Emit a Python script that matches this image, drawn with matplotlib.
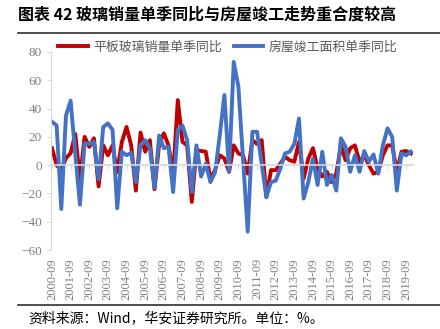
import matplotlib
matplotlib.use('Agg')
import matplotlib.pyplot as plt

# quarterly data, 2000-09 .. 2019-12
glass_yoy = [12, 0, -3.5, 5, 8.5, 22, -10, 20, 13, 19, -15, 14, 7, 14, -5, 16.5,
             27, 14, -18, 23, 9.5, 17.7, -17, 15, 22.5, 14, -7, 46, 16.5, 14, -26, 10.6,
             10, 9.5, -10, -3.5, 7, 4.7, -4.7, 14, 8.3, 7, -6, 17.7, 15, 17.7, -22.5, -3.5,
             -3.5, 1, 6, 3.5, 2.4, 16.5, -9.5, 4.7, 12, -2.4, -8, -4.7, -12, -6, 14, 3.5,
             12, 14, 2.4, 7, 0, -6, -4.7, 7, 14, 14, -4.7, 9.5, 10, 8.3]
completion_yoy = [30.7, 28, -31, 35, 45.6, 8, -28, 15.4, 15, 16.5, -10, 27, 29.5, 25, -30.5, 9.5,
                  7, 8.7, -12, 14, 17.7, 12, -16, 21, 12, 13, -19, 25, 28, 17.7, -19, 14,
                  -8, 1, -12, -5, 21, 49.6, -4.7, 73, 55.5, 4, -47, 23.6, 23.6, 1, -22.5, -12,
                  -11, -2.4, 8.3, 9.5, 15, 33, -23.6, -12, 4.7, -14, 9.5, -14, -7, -18, 19, 13,
                  -4.7, 7, -4.7, 10, 2.4, 7.6, -6, 14, 26, 20, -18, 8.3, 7, 9.5]
year_labels = [f'{y}-09' for y in range(2000, 2020)]

cjk = ['Noto Sans CJK SC', 'DejaVu Sans']
plt.rcParams['font.family'] = ['Liberation Serif', 'DejaVu Serif']

fig = plt.figure(figsize=(4.4, 3.29), dpi=100)
ax = fig.add_axes([0.116, 0.240, 0.823, 0.602])

x = list(range(len(glass_yoy)))
ax.plot(x, glass_yoy, color='#C00000', lw=2.8, label='平板玻璃销量单季同比')
ax.plot(x, completion_yoy, color='#4472C4', lw=2.8, label='房屋竣工面积单季同比')

ax.set_xlim(-0.2, 77.5)
ax.set_ylim(-60, 80)
ax.set_yticks(range(-60, 81, 20))
ax.set_xticks(range(0, 77, 4))
ax.set_xticklabels(year_labels)
ax.tick_params(axis='y', labelsize=9.5, labelcolor='#7f7f7f', color='#d9d9d9', length=3)
ax.tick_params(axis='x', labelsize=9, labelcolor='#7f7f7f', labelrotation=90,
               color='#d9d9d9', length=3, pad=64)

ax.spines['top'].set_visible(False)
ax.spines['right'].set_visible(False)
ax.spines['left'].set_color('#d9d9d9')
ax.spines['bottom'].set_position(('data', 0))
ax.spines['bottom'].set_color('#d9d9d9')
ax.spines['bottom'].set_linewidth(1.2)

leg = ax.legend(loc='upper left', bbox_to_anchor=(-0.012, 1.115), ncol=2, frameon=False,
                prop={'family': cjk, 'size': 9.3}, handlelength=2.3, columnspacing=0.9,
                handletextpad=0.4, labelcolor='#595959')

fig.text(0.04, 0.955, '图表 42 玻璃销量单季同比与房屋竣工走势重合度较高', fontfamily=cjk,
         fontsize=11.5, fontweight='bold', va='center', ha='left')
fig.add_artist(plt.Line2D([0.04, 1.0], [0.90, 0.90], color='#404040', lw=1.3))
fig.add_artist(plt.Line2D([0.04, 1.0], [0.073, 0.073], color='#404040', lw=1.3))
fig.text(0.065, 0.033, '资料来源：Wind，华安证券研究所。单位：%。', fontfamily=cjk,
         fontsize=10, va='center', ha='left')

fig.savefig('out.png', dpi=100)
